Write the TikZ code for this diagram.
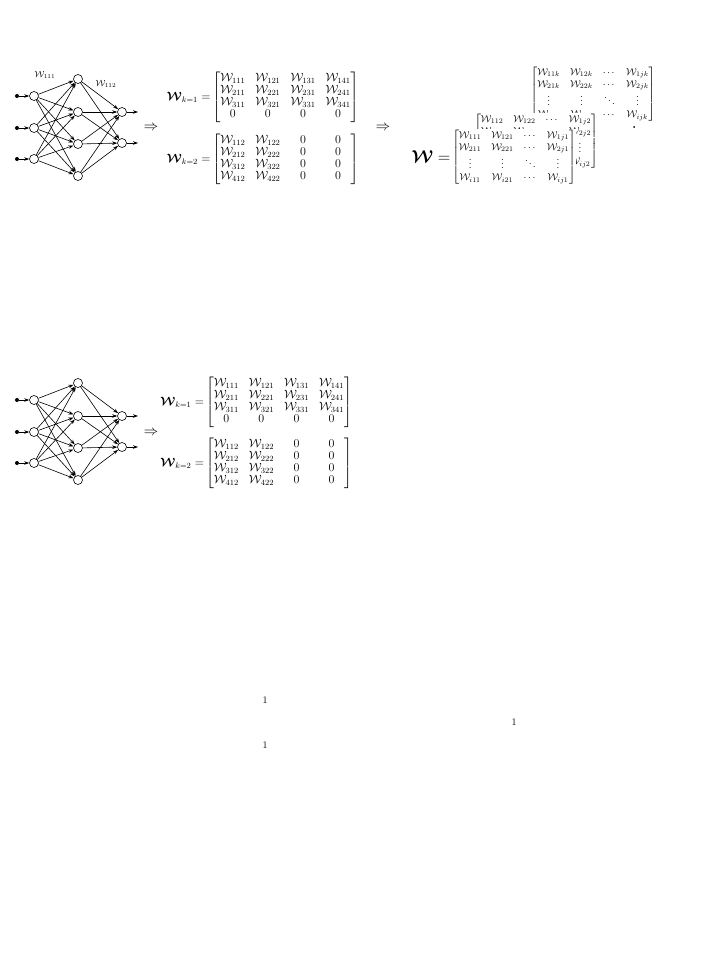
\documentclass[tikz,border=0pt]{standalone}
\usepackage{amsmath,amssymb,bm,calc}
\usetikzlibrary{arrows.meta}
\newcommand{\cw}[1]{\mathcal{W}_{#1}}
\newcommand{\zr}{\makebox[\widthof{$\mathcal{W}_{131}$}]{$0$}}
\newcommand{\matone}{\begin{bmatrix}\cw{111}&\cw{121}&\cw{131}&\cw{141}\\ \cw{211}&\cw{221}&\cw{231}&\cw{241}\\ \cw{311}&\cw{321}&\cw{331}&\cw{341}\\ 0&0&0&0\end{bmatrix}}
\newcommand{\mattwo}{\begin{bmatrix}\cw{112}&\cw{122}&\zr&\zr\\ \cw{212}&\cw{222}&\zr&\zr\\ \cw{312}&\cw{322}&\zr&\zr\\ \cw{412}&\cw{422}&\zr&\zr\end{bmatrix}}
\newcommand{\layer}[1]{\begin{bmatrix}\cw{11#1}&\cw{12#1}&\cdots&\cw{1j#1}\\ \cw{21#1}&\cw{22#1}&\cdots&\cw{2j#1}\\ \vdots&\vdots&\ddots&\vdots\\ \cw{i1#1}&\cw{i2#1}&\cdots&\cw{ij#1}\end{bmatrix}}
\tikzset{
  neuron/.style={circle,draw,minimum size=9pt,inner sep=0pt,line width=0.6pt},
  dotin/.style={circle,fill,inner sep=0pt,minimum size=4pt},
  conn/.style={-{Stealth[length=5pt,width=3.5pt]},line width=0.6pt},
  mat/.style={inner sep=0.5pt,fill=white},
  bigmat/.style={inner sep=0.5pt,fill=white,font=\fontsize{12}{12}\selectfont},
  biglab/.style={anchor=east,inner sep=1pt,font=\fontsize{12}{12}\selectfont},
  implies/.style={font=\Large}
}
\begin{document}
\begin{tikzpicture}[x=1pt,y=-1pt]
\useasboundingbox (0,0) rectangle (720,960);
% two networks
\foreach \n/\dy in {a/0,b/304}{
  \foreach \k/\yy in {1/96,2/128,3/159}{
    \node[neuron] (\n i\k) at (34,\yy+\dy) {};
    \node[dotin] (\n d\k) at (17,\yy+\dy) {};
    \draw[conn] (\n d\k) -- (\n i\k);
  }
  \foreach \k/\yy in {1/79,2/112,3/144,4/176}{
    \node[neuron] (\n h\k) at (78,\yy+\dy) {};
  }
  \foreach \k/\yy in {1/112,2/143}{
    \node[neuron] (\n o\k) at (122,\yy+\dy) {};
    \coordinate (\n e\k) at (138,\yy+\dy);
    \draw[conn] (\n o\k) -- (\n e\k);
  }
  \foreach \a in {1,2,3}{\foreach \b in {1,2,3,4}{\draw[conn] (\n i\a) -- (\n h\b);}}
  \foreach \a in {1,2,3,4}{\foreach \b in {1,2}{\draw[conn] (\n h\a) -- (\n o\b);}}
}
\node[font=\small] (l1) at (45,75) {$\cw{111}$};
\node[font=\small] (l2) at (106,84) {$\cw{112}$};
% first set of matrices
\node[bigmat] (m11) at (285.5,97.5) {$\matone$};
\node[biglab] (w11) at (m11.west) {$\boldsymbol{\mathcal{W}}_{k=1}=$};
\node[bigmat] (m12) at (285.5,159) {$\mattwo$};
\node[biglab] (w12) at (m12.west) {$\boldsymbol{\mathcal{W}}_{k=2}=$};
\node[implies] (r1) at (151,128) {$\Rightarrow$};
\node[implies] (r2) at (383,128) {$\Rightarrow$};
% stacked tensor
\node[mat] (tk) at (593,94) {$\layer{k}$};
\node[mat] (t2) at (536,141) {$\layer{2}$};
\node[mat] (t1) at (514,157) {$\layer{1}$};
\node[anchor=east,inner sep=1pt,font=\LARGE] (wt) at (t1.west) {$\boldsymbol{\mathcal{W}}=$};
\fill (634,127) circle (1);
% second set
\node[bigmat] (m21) at (279,402) {$\matone$};
\node[biglab] (w21) at (m21.west) {$\boldsymbol{\mathcal{W}}_{k=1}=$};
\node[bigmat] (m22) at (279,463.5) {$\mattwo$};
\node[biglab] (w22) at (m22.west) {$\boldsymbol{\mathcal{W}}_{k=2}=$};
\node[implies] (r3) at (151,433) {$\Rightarrow$};
% page numbers
\node (p1) at (265,700) {1};
\node (p2) at (514,722) {1};
\node (p3) at (265,745) {1};
\end{tikzpicture}
\end{document}
